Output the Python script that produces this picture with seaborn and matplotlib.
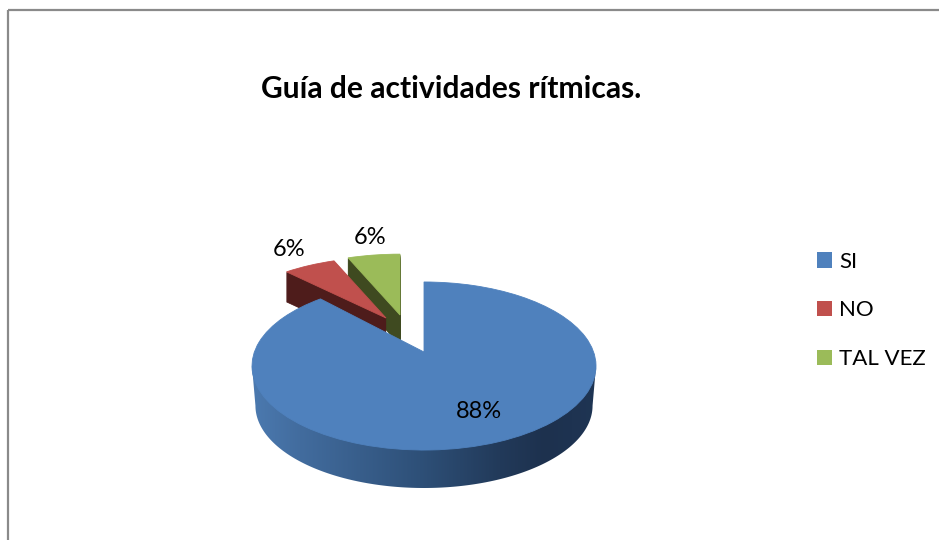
import numpy as np
import seaborn as sns
import matplotlib.pyplot as plt
from matplotlib.patches import Patch, Polygon, Rectangle
from matplotlib.transforms import Transform

titulo = "Guía de actividades rítmicas."
categorias = ["SI", "NO", "TAL VEZ"]
valores = [88, 6, 6]

sns.set_theme(style="white")
plt.rcParams["font.family"] = ["Lato", "DejaVu Sans"]

colores = sns.color_palette(["#4f81bd", "#c0504d", "#9bbb59"])
paredes = ["#1f3552", "#4e1c1b", "#3f4a20"]


class Tilt(Transform):
    # unit circle -> tilted pie in pixel coordinates
    input_dims = output_dims = 2

    def __init__(self, x0, y0, sx, sy, k=1 / 6):
        super().__init__()
        self.x0, self.y0, self.sx, self.sy, self.k = x0, y0, sx, sy, k

    def transform_non_affine(self, v):
        v = np.asarray(v, dtype=float)
        d = 1 + self.k * v[:, 1]
        return np.column_stack((self.x0 + self.sx * v[:, 0] / d, self.y0 - self.sy * v[:, 1] / d))


def draw_slice(ax, valor, start, color, tilt):
    wedges, _ = ax.pie([valor / 100], startangle=start, counterclock=False, normalize=False, colors=[color],
                       wedgeprops={"linewidth": 0.6, "edgecolor": color})
    wedges[0].set_transform(tilt + ax.transData)
    return wedges[0]


fig = plt.figure(figsize=(9.39, 5.40), dpi=100)
ax = fig.add_axes([0, 0, 1, 1])

angulos = 90 - np.cumsum([0] + valores[:-1]) * 3.6

# exploded slices first, green behind red, walls drawn as stacked layers
centros = {2: (400, 315), 1: (386, 318)}
for i in (2, 1):
    x0, y0 = centros[i]
    for d in range(30, 0, -1):
        draw_slice(ax, valores[i], angulos[i], paredes[i], Tilt(x0, y0 + d, 163, 71))
    draw_slice(ax, valores[i], angulos[i], colores[i], Tilt(x0, y0, 163, 71))

# main slice wall with horizontal shading
arriba = Tilt(424, 352, 169.6, 81.7)
abajo = Tilt(424, 392, 166.2, 80)
t = np.linspace(np.pi + np.arcsin(1 / 6), 2 * np.pi - np.arcsin(1 / 6), 200)
borde = abajo.transform(np.column_stack((np.cos(t), np.sin(t))))
tapa = arriba.transform(np.array([[np.cos(t[-1]), np.sin(t[-1])], [np.cos(t[0]), np.sin(t[0])]]))
pared = Polygon(np.vstack((borde, tapa)), closed=True, fc="none", ec="none")
ax.add_patch(pared)

xs = np.linspace(250, 600, 350)
stops_x = [250, 300, 420, 500, 545, 600]
stops_rgb = np.array([[76, 122, 176], [66, 108, 158], [46, 80, 120], [34, 58, 90], [29, 49, 78], [31, 53, 84]]) / 255
degradado = np.stack([np.interp(xs, stops_x, stops_rgb[:, c]) for c in range(3)], axis=1)[np.newaxis, :, :]
im = ax.imshow(degradado, extent=(250, 600, 495, 355), aspect="auto", origin="upper")
im.set_clip_path(pared)

draw_slice(ax, valores[0], angulos[0], colores[0], arriba)

ax.set_aspect("auto")
ax.set_xlim(0, 939)
ax.set_ylim(540, 0)
ax.set_axis_off()

# outer chart frame, cut by the picture on the right and bottom
ax.add_patch(Rectangle((8, 9.5), 1100, 700, fill=False, ec="#8a8a8a", lw=1.6))

ax.text(451, 89, titulo, ha="center", va="center", fontsize=21.6, fontweight="bold", color="black")

etiquetas = [f"{v}%" for v in valores]
posiciones = [(479, 412), (289, 250), (370, 237)]
for txt, (px, py) in zip(etiquetas, posiciones):
    ax.text(px, py, txt, ha="center", va="center", fontsize=17, color="black")

handles = [Patch(fc=c, ec="none") for c in colores]
ax.legend(handles, categorias, loc="center left", bbox_to_anchor=(817, 310.5), bbox_transform=ax.transData,
          frameon=False, fontsize=16, borderpad=0, borderaxespad=0, handlelength=0.675, handleheight=0.675,
          handletextpad=0.32, labelspacing=1.29, labelcolor="black")

fig.savefig("out.png", dpi=100)
